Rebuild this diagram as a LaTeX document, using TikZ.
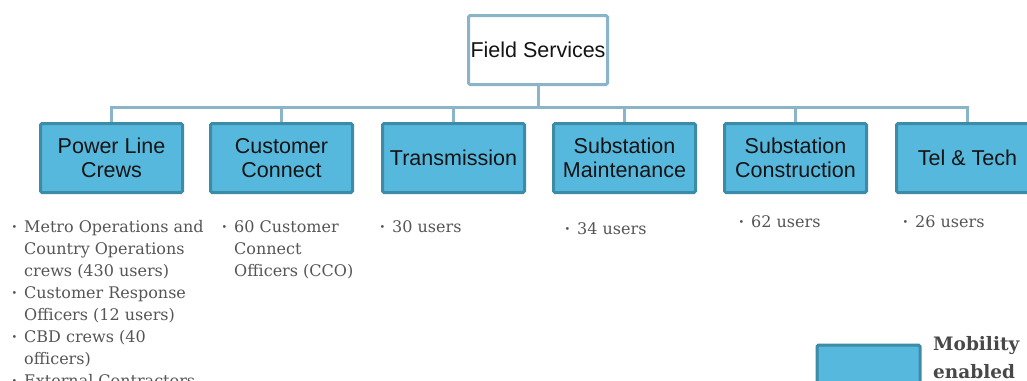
\documentclass[tikz,border=0pt]{standalone}
\usepackage{fontspec}
\setmainfont{Liberation Sans}
\newfontfamily\bulfont{DejaVu Serif}
\definecolor{boxfill}{HTML}{57B8DD}
\definecolor{boxline}{HTML}{3C8BA7}
\definecolor{connline}{HTML}{8AB4C8}
\definecolor{txtgrey}{HTML}{555555}
\newcommand\bu{\llap{\raisebox{1.5pt}{\scalebox{0.6}{\textbullet}}\hspace{7pt}}}
\tikzset{
  unitbox/.style={draw=boxline, fill=boxfill, line width=3pt, rounded corners=1.5pt,
    minimum width=142pt, minimum height=69pt, inner sep=0pt, align=center,
    font=\fontsize{21.5}{23.5}\selectfont, text=black!92},
  topbox/.style={unitbox, draw=connline, fill=white, minimum width=139pt},
  conn/.style={draw=connline, line width=3pt},
  bultext/.style={font=\bulfont\fontsize{16}{22}\selectfont, text=txtgrey,
    anchor=north west, inner sep=0pt, align=left},
  legtext/.style={font=\bulfont\bfseries\fontsize{18.5}{28}\selectfont, text=txtgrey!85!black,
    anchor=north west, inner sep=0pt, align=left}
}
\begin{document}
\begin{tikzpicture}[x=1pt,y=-1pt]
\clip (0,0) rectangle (1027,380);
\fill[white] (0,0) rectangle (1027,380);

\node[topbox] (top) at (538,50) {Field Services};

\node[unitbox] (c1) at (111.5,158) {Power Line\\Crews};
\node[unitbox] (c2) at (281.5,158) {Customer\\Connect};
\node[unitbox] (c3) at (453.5,158) {Transmission};
\node[unitbox] (c4) at (624.5,158) {Substation\\Maintenance};
\node[unitbox] (c5) at (795.5,158) {Substation\\Construction};
\node[unitbox] (c6) at (967.5,158) {Tel \& Tech};

\coordinate (bus) at (538,107);
\draw[conn] (top.south) -- (bus);
\foreach \c in {c1,c2,c3,c4,c5,c6} {
  \draw[conn] (bus) -| (\c.north);
}

% first baselines: subtract strut height (15.4)
\node[bultext] (l1) at (24,216.6) {\strut\bu Metro Operations and\\Country Operations\\crews (430 users)\\\bu Customer Response\\Officers (12 users)\\\bu CBD crews (40\\officers)\\\bu External Contractors};
\node[bultext] (l2) at (234,216.6) {\strut\bu 60 Customer\\Connect\\Officers (CCO)};
\node[bultext] (l3) at (392,216.6) {\strut\bu 30 users};
\node[bultext] (l4) at (577,218.6) {\strut\bu 34 users};
\node[bultext] (l5) at (751,211.6) {\strut\bu 62 users};
\node[bultext] (l6) at (915,211.6) {\strut\bu 26 users};

\node[draw=boxline, fill=boxfill, line width=3pt, rounded corners=1.5pt,
  minimum width=103pt, minimum height=50pt, inner sep=0pt] (leg) at (868.5,370) {};
\node[legtext] (legt) at (933,330.4) {\strut Mobility\\enabled};
\end{tikzpicture}
\end{document}
